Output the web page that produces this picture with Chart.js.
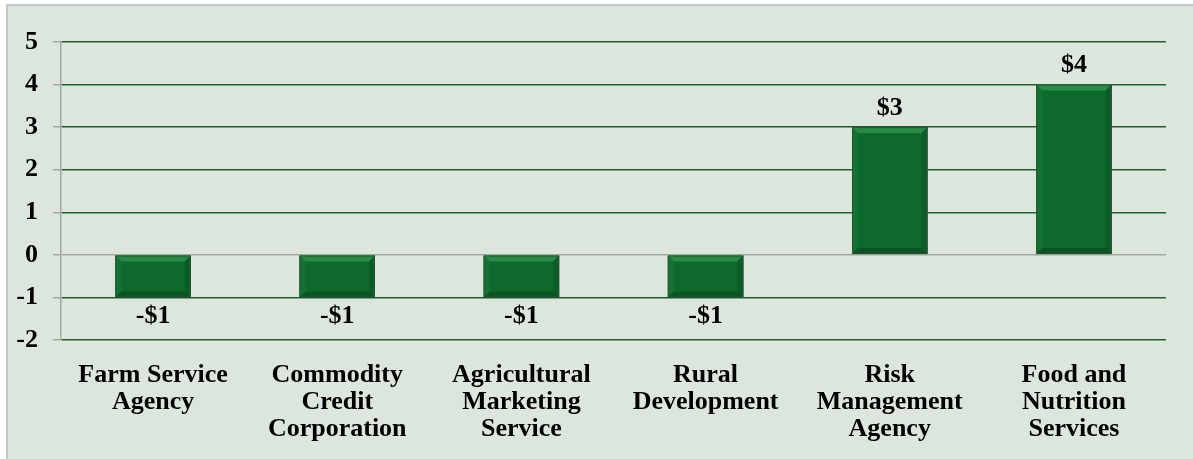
<!DOCTYPE html>
<html>
<head>
<meta charset="utf-8">
<script src="https://cdn.jsdelivr.net/npm/chart.js@4.4.1/dist/chart.umd.min.js"></script>
<style>
  html, body { margin: 0; padding: 0; background: #ffffff; overflow: hidden; }
  #frame {
    position: absolute; left: 6px; top: 4px; right: 0; bottom: 0;
    background: #dde6dc;
    border-left: 2px solid #c3c6c2;
    border-top: 2px solid #c3c6c2;
  }
  #chart { position: absolute; left: 0; top: 0; }
</style>
</head>
<body>
<div id="frame"></div>
<canvas id="chart" width="1193" height="459"></canvas>
<script>
const categories = [
  ['Farm Service', 'Agency'],
  ['Commodity', 'Credit', 'Corporation'],
  ['Agricultural', 'Marketing', 'Service'],
  ['Rural', 'Development'],
  ['Risk', 'Management', 'Agency'],
  ['Food and', 'Nutrition', 'Services'],
];
const values = [-1, -1, -1, -1, 3, 4];
const valueLabels = ['-$1', '-$1', '-$1', '-$1', '$3', '$4'];
const yTicks = [-2, -1, 0, 1, 2, 3, 4, 5];

const SERIF = '"Liberation Serif", "Times New Roman", serif';

// bevelled look of the bars, drawn on top of each bar element
const bevelPlugin = {
  id: 'bevel',
  afterDatasetsDraw(chart) {
    const { ctx } = chart;
    const meta = chart.getDatasetMeta(0);
    const b = 6;
    meta.data.forEach((bar) => {
      const left = bar.x - bar.width / 2;
      const right = bar.x + bar.width / 2;
      const top = Math.min(bar.y, bar.base);
      const bottom = Math.max(bar.y, bar.base);
      const poly = (pts, color) => {
        ctx.beginPath();
        ctx.moveTo(pts[0][0], pts[0][1]);
        pts.slice(1).forEach((p) => ctx.lineTo(p[0], p[1]));
        ctx.closePath();
        ctx.fillStyle = color;
        ctx.fill();
      };
      ctx.save();
      poly([[left, top], [right, top], [right - b, top + b], [left + b, top + b]], '#2a8a47');
      poly([[left, top], [left + b, top + b], [left + b, bottom - b], [left, bottom]], '#127333');
      poly([[right, top], [right, bottom], [right - b, bottom - b], [right - b, top + b]], '#0b5c27');
      poly([[left, bottom], [left + b, bottom - b], [right - b, bottom - b], [right, bottom]], '#0a5523');
      ctx.strokeStyle = '#2b5535';
      ctx.lineWidth = 1;
      ctx.strokeRect(left + 0.5, top + 0.5, right - left - 1, bottom - top - 1);
      ctx.restore();
    });
  },
};

const valueLabelPlugin = {
  id: 'valueLabels',
  afterDatasetsDraw(chart) {
    const { ctx } = chart;
    const meta = chart.getDatasetMeta(0);
    ctx.save();
    ctx.font = 'bold 26px ' + SERIF;
    ctx.fillStyle = '#000000';
    ctx.textAlign = 'center';
    ctx.textBaseline = 'middle';
    meta.data.forEach((bar, i) => {
      const offset = values[i] >= 0 ? -19 : 19;
      ctx.fillText(valueLabels[i], bar.x, bar.y + offset);
    });
    ctx.restore();
  },
};

new Chart(document.getElementById('chart'), {
  type: 'bar',
  data: {
    labels: categories,
    datasets: [{
      data: values,
      backgroundColor: '#0d6a2c',
      borderWidth: 0,
      barPercentage: 0.41,
      categoryPercentage: 1,
    }],
  },
  options: {
    responsive: false,
    animation: false,
    layout: { padding: { top: 42, right: 27, left: 0, bottom: 0 } },
    plugins: {
      legend: { display: false },
      tooltip: { enabled: false },
    },
    scales: {
      x: {
        grid: { display: false },
        border: { display: false },
        ticks: {
          color: '#000000',
          font: { family: SERIF, size: 26, weight: 'bold', lineHeight: 1.04 },
          padding: 14,
          maxRotation: 0,
          autoSkip: false,
        },
        afterFit(scale) { scale.height = 119; },
      },
      y: {
        min: yTicks[0],
        max: yTicks[yTicks.length - 1],
        afterBuildTicks(scale) { scale.ticks = yTicks.map((v) => ({ value: v })); },
        grid: {
          color: (c) => (c.tick && c.tick.value === 0 ? '#a3a8a2' : '#1e5e2e'),
          lineWidth: 1.5,
          tickColor: '#a3a8a2',
          tickLength: 8,
        },
        border: { display: true, color: '#a3a8a2', width: 1.5 },
        ticks: {
          color: '#000000',
          font: { family: SERIF, size: 26, weight: 'bold' },
          padding: 15,
        },
        afterFit(scale) { scale.width = 61; },
      },
    },
  },
  plugins: [bevelPlugin, valueLabelPlugin],
});
</script>
</body>
</html>
